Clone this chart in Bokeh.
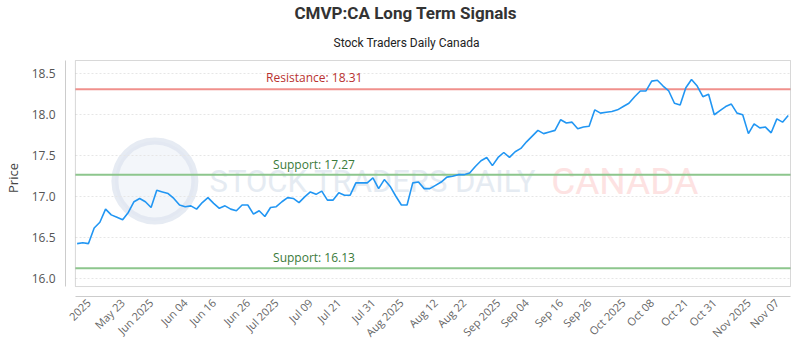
import math
from bokeh.plotting import figure
from bokeh.models import Range1d, FixedTicker, BoxAnnotation, Label, NumeralTickFormatter, Title
from bokeh.embed import file_html
from bokeh.resources import INLINE

# ---------------- data ----------------
title_text = "CMVP:CA Long Term Signals"
subtitle_text = "Stock Traders Daily Canada"

prices = [
    16.43, 16.44, 16.43, 16.62, 16.69, 16.85, 16.78, 16.75, 16.72, 16.81,
    16.94, 16.98, 16.94, 16.87, 17.08, 17.06, 17.04, 16.98, 16.90, 16.88,
    16.89, 16.85, 16.93, 16.99, 16.92, 16.86, 16.89, 16.85, 16.83, 16.90,
    16.90, 16.79, 16.83, 16.76, 16.87, 16.88, 16.94, 16.99, 16.98, 16.93,
    17.00, 17.06, 17.03, 17.07, 16.96, 16.96, 17.05, 17.02, 17.02, 17.17,
    17.17, 17.17, 17.23, 17.10, 17.21, 17.13, 17.01, 16.90, 16.90, 17.17,
    17.18, 17.10, 17.10, 17.14, 17.18, 17.24, 17.25, 17.27, 17.27, 17.29,
    17.37, 17.44, 17.48, 17.38, 17.48, 17.54, 17.48, 17.55, 17.59, 17.67,
    17.74, 17.81, 17.77, 17.79, 17.81, 17.94, 17.90, 17.91, 17.83, 17.85,
    17.86, 18.06, 18.02, 18.03, 18.04, 18.06, 18.10, 18.14, 18.22, 18.29,
    18.29, 18.41, 18.42, 18.35, 18.29, 18.14, 18.12, 18.33, 18.43, 18.35,
    18.22, 18.25, 18.00, 18.05, 18.10, 18.13, 18.02, 18.00, 17.77, 17.89,
    17.84, 17.85, 17.78, 17.95, 17.91, 17.99,
]
resistance = 18.31
supports = [17.27, 16.13]

x_tick_index = [2, 8, 13, 19, 24, 30, 35, 41, 46, 52, 57, 63, 68, 74, 79, 85,
                90, 96, 101, 107, 112, 118, 123]
x_tick_labels = ["2025", "May 23", "Jun 2025", "Jun 04", "Jun 16", "Jun 26",
                 "Jul 2025", "Jul 09", "Jul 21", "Jul 31", "Aug 2025", "Aug 12",
                 "Aug 22", "Sep 2025", "Sep 04", "Sep 16", "Sep 26", "Oct 2025",
                 "Oct 08", "Oct 21", "Oct 31", "Nov 2025", "Nov 07"]
y_ticks = [16.0, 16.5, 17.0, 17.5, 18.0, 18.5]

# ---------------- layout helpers (pixel -> data) ----------------
X0_PX, X_STEP = 71.7, 5.728
Y0_PX, Y_SCALE = 278.3, 82.4


def ix(px):
    return (px - X0_PX) / X_STEP


def vy(py):
    return 16.0 + (Y0_PX - py) / Y_SCALE


FRAME_L, FRAME_R, FRAME_T, FRAME_B = 60, 791, 58, 296
BOX_L, BOX_R, BOX_T, BOX_B = 70, 790, 59, 286

xs = list(range(len(prices)))

p = figure(width=800, height=350, output_backend="svg", toolbar_location=None,
           x_range=Range1d(ix(FRAME_L), ix(FRAME_R)),
           y_range=Range1d(vy(FRAME_B), vy(FRAME_T)),
           min_border_left=FRAME_L, min_border_right=800 - FRAME_R,
           min_border_top=FRAME_T, min_border_bottom=350 - FRAME_B)
p.outline_line_color = None
p.background_fill_color = "white"
p.border_fill_color = "white"

# titles (first added sits closest to the frame)
p.add_layout(Title(text=subtitle_text, align="left", offset=400 - FRAME_L - 72,
                   text_font="Roboto", text_font_size="12px", text_font_style="normal",
                   text_color="#222222", standoff=20), "above")
p.add_layout(Title(text=title_text, align="left", offset=400 - FRAME_L - 111,
                   text_font="Roboto", text_font_size="17px", text_font_style="bold",
                   text_color="#333333", standoff=1), "above")

# watermark
p.scatter(x=[ix(150)], y=[vy(180)], size=80, marker="circle",
          fill_color="#eef2f8", fill_alpha=0.7, line_color="#dbe3ee",
          line_width=7, line_alpha=0.7, level="underlay")
p.add_layout(Label(x=ix(205), y=vy(181), text="STOCK TRADERS DAILY",
                   text_font="Roboto", text_font_size="31px",
                   text_color="#e5ebf2", text_baseline="middle", level="underlay"))
p.add_layout(Label(x=ix(549), y=vy(181), text="CANADA",
                   text_font="Roboto", text_font_size="37px",
                   text_color="#fde2e2", text_baseline="middle", level="underlay"))

# inner box
p.add_layout(BoxAnnotation(left=ix(BOX_L), right=ix(BOX_R), top=vy(BOX_T), bottom=vy(BOX_B),
                           fill_alpha=0, line_color="#7f7f7f", line_width=1))

# axes
p.yaxis.ticker = FixedTicker(ticks=y_ticks)
p.yaxis.formatter = NumeralTickFormatter(format="0.0")
p.yaxis.bounds = (vy(BOX_B), vy(BOX_T))
p.yaxis.axis_line_color = "#cccccc"
p.yaxis.major_tick_line_color = None
p.yaxis.minor_tick_line_color = None
p.yaxis.major_tick_out = 0
p.yaxis.minor_tick_out = 0
p.yaxis.major_label_standoff = 10
p.yaxis.major_label_text_font = "Open Sans"
p.yaxis.major_label_text_font_size = "12px"
p.yaxis.major_label_text_color = "#555555"
p.yaxis.axis_label = "Price"
p.yaxis.axis_label_text_font = "Open Sans"
p.yaxis.axis_label_text_font_size = "13px"
p.yaxis.axis_label_text_font_style = "normal"
p.yaxis.axis_label_text_color = "#444444"
p.yaxis.axis_label_standoff = 7

p.xaxis.ticker = FixedTicker(ticks=x_tick_index)
p.xaxis.major_label_overrides = {i: t for i, t in zip(x_tick_index, x_tick_labels)}
p.xaxis.major_label_orientation = math.pi / 4
p.xaxis.bounds = (ix(BOX_L), ix(BOX_R))
p.xaxis.axis_line_color = "#cccccc"
p.xaxis.major_tick_line_color = None
p.xaxis.minor_tick_line_color = None
p.xaxis.major_tick_out = 0
p.xaxis.minor_tick_out = 0
p.xaxis.major_label_standoff = 4
p.xaxis.major_label_text_font = "Open Sans"
p.xaxis.major_label_text_font_size = "11px"
p.xaxis.major_label_text_color = "#666666"

p.xgrid.visible = False
p.ygrid.ticker = FixedTicker(ticks=y_ticks)
p.ygrid.grid_line_color = "#e6e6e6"
p.ygrid.grid_line_dash = "2 2"
p.ygrid.cross_bounds = (ix(BOX_L), ix(BOX_R))

# resistance / support lines
levels = [resistance] + supports
level_colors = ["#f0908c", "#8dc68d", "#8dc68d"]
p.segment(x0=[ix(BOX_L)] * 3, x1=[ix(BOX_R)] * 3, y0=levels, y1=levels,
          line_color=level_colors, line_width=2)

p.add_layout(Label(x=ix(262), y=resistance, text=f"Resistance: {resistance:.2f}",
                   text_font="Open Sans", text_font_size="12px",
                   text_color="#b8312f", y_offset=3, text_baseline="bottom"))
for s in supports:
    p.add_layout(Label(x=ix(269), y=s, text=f"Support: {s:.2f}",
                       text_font="Open Sans", text_font_size="12px",
                       text_color="#3a7a3a", y_offset=2, text_baseline="bottom"))

# price line
p.line(xs, prices, line_color="#2196f3", line_width=1.6)

open("out.html", "w").write(file_html(p, INLINE))
